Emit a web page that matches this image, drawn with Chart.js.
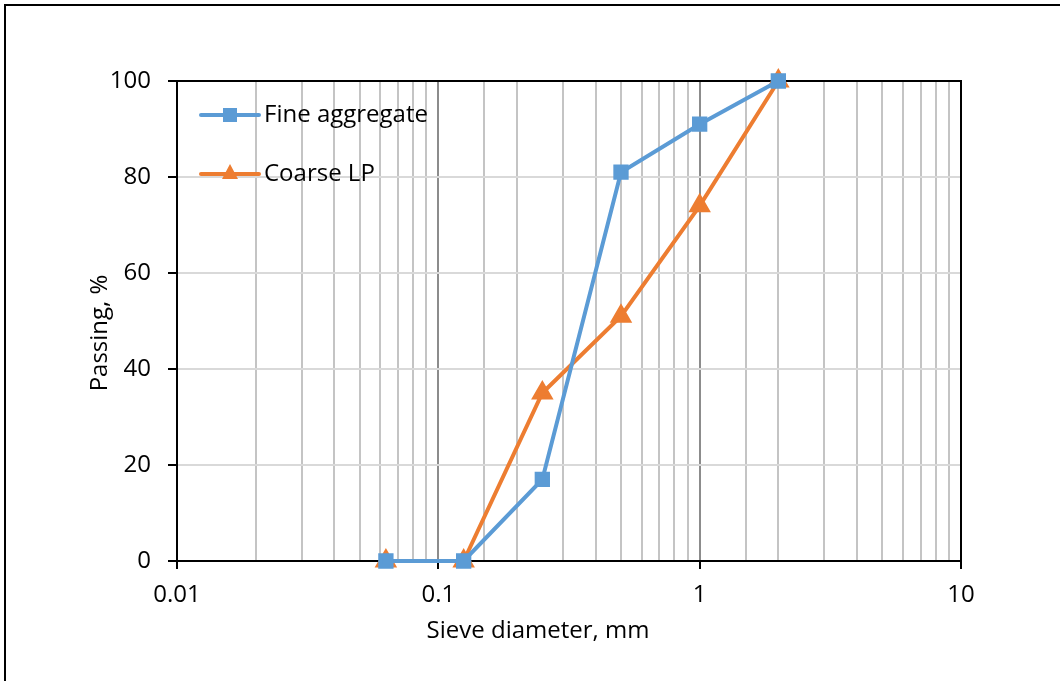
<!DOCTYPE html>
<html><head><meta charset="utf-8">
<script src="https://cdn.jsdelivr.net/npm/chart.js@4/dist/chart.umd.min.js"></script>
<style>
html,body{margin:0;padding:0;background:#fff;}
#wrap{position:relative;width:1060px;height:681px;overflow:hidden;}
#frame{position:absolute;left:4px;top:4px;width:1100px;height:700px;border:2px solid #000;box-sizing:border-box;pointer-events:none;}
canvas{position:absolute;left:0;top:0;}
</style></head>
<body><div id="wrap"><canvas id="c" width="1060" height="681"></canvas><div id="frame"></div></div>
<script>
const sieveSizes = [0.063, 0.125, 0.25, 0.5, 1, 2];
const fineAggregate = [0, 0, 17, 81, 91, 100];
const coarseLP = [0, 0, 35, 51, 74, 100];
const seriesNames = ['Fine aggregate', 'Coarse LP'];
const xTickLabels = [0.01, 0.1, 1, 10];
const yTickLabels = [0, 20, 40, 60, 80, 100];
const xTitle = 'Sieve diameter, mm';
const yTitle = 'Passing, %';

const FONT = 'Open Sans';
const FS = 24;
const BLUE = '#5B9BD5', ORANGE = '#ED7D31';
const isMajor = v => Math.abs(Math.log10(v) - Math.round(Math.log10(v))) < 1e-6;

const legendPlugin = {
  id: 'insideLegend',
  afterDraw(chart) {
    const ctx = chart.ctx;
    const items = [{y:115, ds:chart.data.datasets[0]}, {y:174, ds:chart.data.datasets[1]}];
    ctx.save();
    items.forEach(it => {
      ctx.strokeStyle = it.ds.borderColor; ctx.lineWidth = 4; ctx.lineCap='round';
      ctx.beginPath(); ctx.moveTo(201, it.y); ctx.lineTo(259, it.y); ctx.stroke();
      ctx.fillStyle = it.ds.backgroundColor;
      if (it.ds.pointStyle === 'rect') { ctx.fillRect(223, it.y-7, 14, 14); }
      else { ctx.beginPath(); ctx.moveTo(230, it.y-10); ctx.lineTo(238, it.y+5); ctx.lineTo(222, it.y+5); ctx.closePath(); ctx.fill(); }
      ctx.fillStyle = '#000'; ctx.font = FS + 'px "' + FONT + '"'; ctx.textBaseline = 'middle'; ctx.textAlign='left';
      ctx.fillText(it.ds.label, 264, it.y);
    });
    // axis titles
    ctx.fillStyle = '#000'; ctx.font = FS + 'px "' + FONT + '"'; ctx.textAlign = 'center'; ctx.textBaseline = 'middle';
    ctx.fillText(xTitle, 538, 631);
    ctx.translate(100, 333); ctx.rotate(-Math.PI/2);
    ctx.fillText(yTitle, 0, 0);
    ctx.restore();
  }
};
const boxPlugin = {
  id: 'box',
  beforeDatasetsDraw(chart) {
    const a = chart.chartArea, ctx = chart.ctx;
    ctx.save(); ctx.strokeStyle = '#000'; ctx.lineWidth = 2;
    ctx.beginPath(); ctx.moveTo(a.left, a.top); ctx.lineTo(a.right, a.top); ctx.lineTo(a.right, a.bottom); ctx.stroke();
    ctx.restore();
  }
};

new Chart(document.getElementById('c'), {
  type: 'line',
  data: {
    datasets: [
      { label: seriesNames[0], data: sieveSizes.map((x,i)=>({x, y: fineAggregate[i]})),
        borderColor: BLUE, backgroundColor: BLUE, borderWidth: 4, pointStyle: 'rect', pointRadius: 8, pointHoverRadius: 8, tension: 0, clip: false },
      { label: seriesNames[1], data: sieveSizes.map((x,i)=>({x, y: coarseLP[i]})),
        borderColor: ORANGE, backgroundColor: ORANGE, borderWidth: 4, pointStyle: 'triangle', pointRadius: 9, pointHoverRadius: 9, tension: 0, clip: false }
    ]
  },
  options: {
    responsive: false, animation: false, devicePixelRatio: 1,
    layout: { padding: { left: 0, top: 81, right: 99, bottom: 0 } },
    plugins: { legend: { display: false }, tooltip: { enabled: false } },
    scales: {
      x: {
        type: 'logarithmic', min: 0.01, max: 10,
        afterFit(s) { s.height = 120; },
        border: { display: true, color: '#000', width: 2 },
        grid: {
          color: c => (c.tick && isMajor(c.tick.value)) ? '#8c8c8c' : '#c4c4c4',
          lineWidth: 2,
          tickLength: 8,
          tickColor: c => (c.tick && isMajor(c.tick.value)) ? '#000' : 'rgba(0,0,0,0)',
          drawTicks: true
        },
        ticks: {
          autoSkip: false, maxRotation: 0, padding: 12,
          color: '#000', font: { family: FONT, size: FS },
          callback: (v) => xTickLabels.find(t => Math.abs(t - v) < 1e-9) !== undefined ? String(v) : ''
        },
        title: { display: false }
      },
      y: {
        min: 0, max: 100,
        afterFit(s) { s.width = 177; },
        afterBuildTicks(s) { s.ticks = yTickLabels.map(v => ({ value: v })); },
        border: { display: true, color: '#000', width: 2 },
        grid: { color: '#d9d9d9', lineWidth: 2, tickLength: 9, tickColor: '#000' },
        ticks: { color: '#000', font: { family: FONT, size: FS }, padding: 17 },
        title: { display: false }
      }
    }
  },
  plugins: [boxPlugin, legendPlugin]
});
</script></body></html>
